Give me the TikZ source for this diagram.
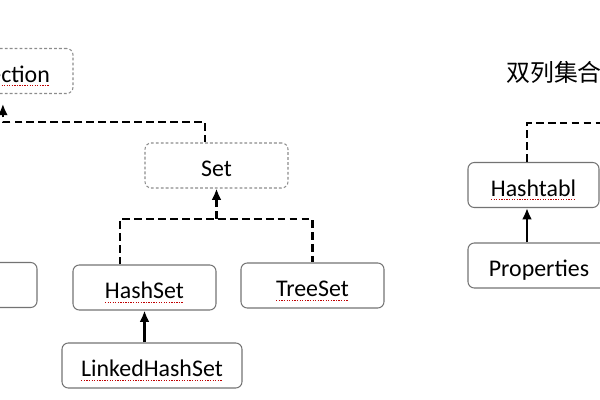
\documentclass[tikz,border=0pt]{standalone}
\usepackage{fontspec}
\setmainfont{Carlito}
\newfontfamily\cjk{Noto Sans CJK SC}
\usetikzlibrary{arrows.meta}
% red spell-check underline
\newcommand\typo[1]{\setbox0=\hbox{#1}\leavevmode\rlap{\lower2.5pt\hbox to\wd0{\color{red!75!black}\xleaders\hbox{\vrule width0.9pt height0.45pt\kern0.9pt}\hfil}}\box0}

\begin{document}
\begin{tikzpicture}[x=0.025cm,y=-0.025cm,
        font=\fontsize{17}{20}\selectfont,
        box/.style={draw=black!55,line width=0.75pt,rounded corners=4.5pt,minimum height=1.125cm,inner sep=0pt,text height=16pt,text depth=0pt},
        absbox/.style={box,draw=black!45,dash pattern=on 2pt off 1.5pt},
        link/.style={line width=1.6pt,dash pattern=on 5.5pt off 3pt},
        solid link/.style={line width=1.6pt},
        >={Latex[length=8pt,width=7pt]}]
        \useasboundingbox (0,0) rectangle (600,400);
        \clip (0,0) rectangle (600,400);

        % single-column side
        \node[absbox,minimum width=3.575cm] (coll) at (1.5,71) {\typo{Collection}};
        \node[absbox,minimum width=3.575cm] (set) at (216.5,165.5) {Set};
        \node[box,minimum width=3.575cm] (list) at (-34.5,285) {};
        \node[box,minimum width=3.575cm] (hashset) at (144.5,287.5) {\typo{HashSet}};
        \node[box,minimum width=3.575cm] (treeset) at (312.5,285.5) {\typo{TreeSet}};
        \node[box,minimum width=4.5cm] (lhs) at (152,365.5) {\typo{LinkedHashSet}};

        % double-column side
        \node[font=\cjk\fontsize{17}{20}\selectfont] (title) at (554,72) {双列集合};
        \node[box,minimum width=3.275cm] (table) at (533.5,185) {\typo{Hashtabl}};
        \node[box,minimum width=3.55cm] (props) at (539,265.5) {Properties};

        \coordinate (j1) at (205,122);
        \coordinate (j2) at (216.5,219);
        \coordinate (h1) at (120,219);
        \coordinate (j3) at (527,123);
        \coordinate (out) at (610,123);

        \draw[link,->] (j1 |- set.north) -- (j1) -| ([xshift=1pt,yshift=-7pt]coll.south);
        \draw[link,->] (j2) -- (set.south);
        \draw[link] (h1 |- hashset.north) -- (h1) -- (h1 -| treeset.north) -- (treeset.north);
        \draw[solid link,->] (lhs.north -| hashset.south) -- (hashset.south);

        \draw[link] (table.north -| j3) -- (j3) -- (out);
        \draw[solid link,->] (props.north -| j3) -- (table.south -| j3);
\end{tikzpicture}
\end{document}
